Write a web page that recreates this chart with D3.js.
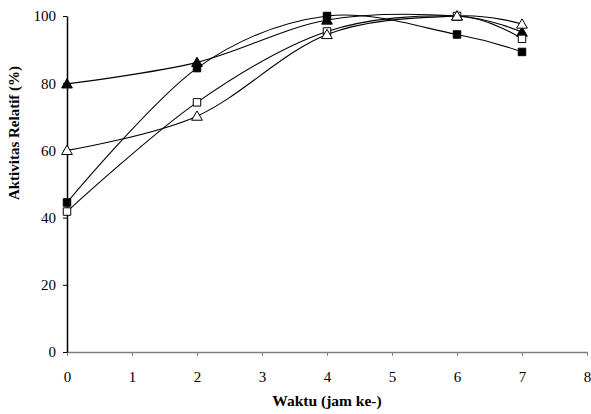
<!DOCTYPE html>
<html>
<head>
<meta charset="utf-8">
<script src="https://cdn.jsdelivr.net/npm/d3@7"></script>
<style>
  body { margin: 0; background: #fff; }
  text { font-family: "Liberation Serif", "Times New Roman", serif; }
</style>
</head>
<body>
<div id="chart"></div>
<script>
// Data
const hours = [0, 2, 4, 6, 7];
const filledSquare = [44.5, 84.5, 100, 94.5, 89.3];
const filledTriangle = [79.8, 86.2, 98.8, 100, 95.2];
const openSquare = [41.8, 74.3, 95.4, 100, 93.2];
const openTriangle = [60, 70.2, 94.5, 100, 97.6];
const xTicks = [0, 1, 2, 3, 4, 5, 6, 7, 8];
const yTicks = [0, 20, 40, 60, 80, 100];

const width = 591, height = 414;
const margin = { left: 67, right: 4, top: 16, bottom: 62 };

const svg = d3.select("#chart")
  .append("svg")
    .attr("width", width)
    .attr("height", height);

const x = d3.scaleLinear().domain([0, 8]).range([margin.left, width - margin.right]);
const y = d3.scaleLinear().domain([0, 100]).range([height - margin.bottom, margin.top]);

// x axis (grey)
const xAxis = svg.append("g")
  .attr("transform", `translate(0,${y(0)})`)
  .call(d3.axisBottom(x).tickValues(xTicks).tickSize(4).tickPadding(15).tickSizeOuter(0));
xAxis.select(".domain").attr("stroke", "#808080").attr("stroke-width", 1.5);
xAxis.selectAll(".tick line").attr("stroke", "#808080");
xAxis.selectAll(".tick text").attr("font-size", 15).attr("fill", "#000");

// y axis (black)
const yAxis = svg.append("g")
  .attr("transform", `translate(${x(0)},0)`)
  .call(d3.axisLeft(y).tickValues(yTicks).tickSize(4).tickPadding(7).tickSizeOuter(0));
yAxis.select(".domain").attr("stroke", "#000").attr("stroke-width", 1.5);
yAxis.selectAll(".tick text").attr("font-size", 15).attr("fill", "#000");

// axis titles
svg.append("text")
  .attr("x", (x(0) + x(8)) / 2)
  .attr("y", 406)
  .attr("text-anchor", "middle")
  .attr("font-size", 15.5)
  .attr("font-weight", "bold")
  .text("Waktu (jam ke-)");

svg.append("text")
  .attr("transform", `translate(19,133) rotate(-90)`)
  .attr("text-anchor", "middle")
  .attr("font-size", 15)
  .attr("font-weight", "bold")
  .text("Aktivitas Relatif (%)");

const series = [
  { values: filledSquare, shape: "square", fill: "#000" },
  { values: filledTriangle, shape: "triangle", fill: "#000" },
  { values: openSquare, shape: "square", fill: "#fff" },
  { values: openTriangle, shape: "triangle", fill: "#fff" }
];

const line = d3.line()
  .x(d => x(d[0]))
  .y(d => y(d[1]))
  .curve(d3.curveCardinal.tension(0));

// lines first
series.forEach(s => {
  const pts = hours.map((h, i) => [h, s.values[i]]);
  svg.append("path")
    .datum(pts)
    .attr("fill", "none")
    .attr("stroke", "#000")
    .attr("stroke-width", 1.1)
    .attr("d", line);
});

// markers
const sym = {
  square: d3.symbol().type(d3.symbolSquare).size(56),
  triangle: d3.symbol().type(d3.symbolTriangle).size(50)
};

series.forEach(s => {
  const pts = hours.map((h, i) => [h, s.values[i]]);
  svg.append("g").selectAll("path")
    .data(pts)
    .join("path")
      .attr("transform", d => `translate(${x(d[0])},${y(d[1]) + (s.shape === "triangle" ? 1 : 0)})`)
      .attr("d", sym[s.shape])
      .attr("fill", s.fill)
      .attr("stroke", "#000")
      .attr("stroke-width", 1);
});
</script>
</body>
</html>
